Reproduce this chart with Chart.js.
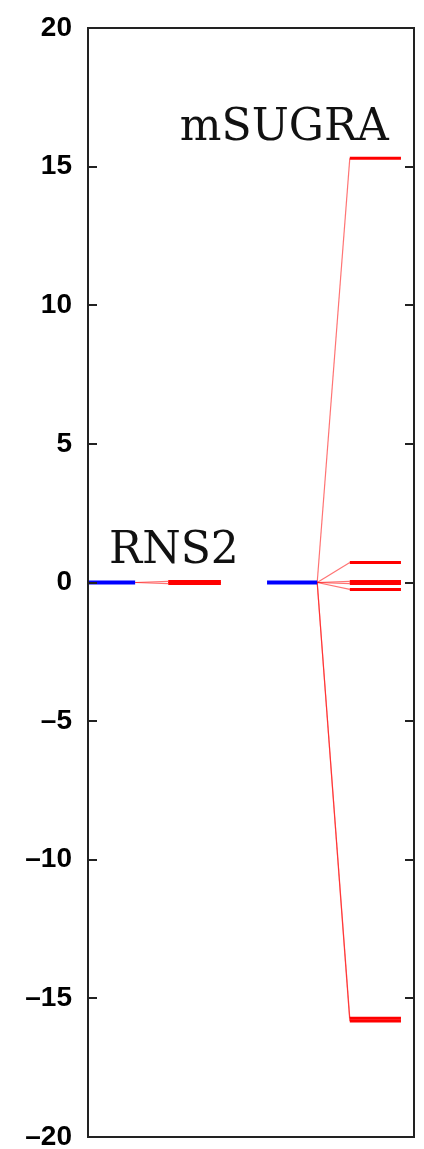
<!DOCTYPE html>
<html>
<head>
<meta charset="utf-8">
<script src="https://cdn.jsdelivr.net/npm/chart.js@4/dist/chart.umd.min.js"></script>
<style>
  html, body { margin: 0; padding: 0; background: #fff; }
  #wrap { width: 424px; height: 1149px; }
</style>
</head>
<body>
<div id="wrap"><canvas id="chart" width="424" height="1149"></canvas></div>
<script>
// Dados do gráfico
const groupNames = ['RNS2', 'mSUGRA'];
const yTicks = [-20, -15, -10, -5, 0, 5, 10, 15, 20];
const baseLevel = 0;
const blueStart = [0, 3.57];
const blueEnd = [0.94, 4.57];
const redStart = [1.6, 5.22];
const redEnd = [2.65, 6.24];
const rns2Levels = [0.04, -0.04];
const msugraLevels = [15.3, 0.72, 0.04, -0.04, -0.25, -15.72, -15.82];
const groupLevels = [rns2Levels, msugraLevels];

// Montar datasets
const datasets = [];
groupNames.forEach((nome, i) => {
    // linha azul (nível base)
    datasets.push({
        data: [{ x: blueStart[i], y: baseLevel }, { x: blueEnd[i], y: baseLevel }],
        borderColor: '#0000ff',
        borderWidth: 4
    });
    groupLevels[i].forEach(nivel => {
        // ligação fina
        datasets.push({
            data: [{ x: blueEnd[i], y: baseLevel }, { x: redStart[i], y: nivel }],
            borderColor: 'rgba(255, 0, 0, 0.55)',
            borderWidth: 1.2
        });
        // nível vermelho
        datasets.push({
            data: [{ x: redStart[i], y: nivel }, { x: redEnd[i], y: nivel }],
            borderColor: '#ff0000',
            borderWidth: 3
        });
    });
});
datasets.forEach(d => {
    d.showLine = true;
    d.pointRadius = 0;
    d.borderCapStyle = 'butt';
});

// Moldura, marcas e rótulos
const framePlugin = {
    id: 'frame',
    afterDraw(chart) {
        const ctx = chart.ctx;
        const a = chart.chartArea;
        const ys = chart.scales.y;
        const xs = chart.scales.x;
        ctx.save();
        ctx.strokeStyle = '#222';
        ctx.lineWidth = 2;
        ctx.strokeRect(a.left, a.top, a.right - a.left, a.bottom - a.top);
        ctx.beginPath();
        yTicks.forEach(t => {
            const py = Math.round(ys.getPixelForValue(t));
            ctx.moveTo(a.left, py); ctx.lineTo(a.left + 9, py);
            ctx.moveTo(a.right, py); ctx.lineTo(a.right - 9, py);
        });
        ctx.stroke();

        ctx.fillStyle = '#111';
        ctx.font = '44px "DejaVu Serif"';
        ctx.textBaseline = 'alphabetic';
        ctx.textAlign = 'left';
        ctx.fillText(groupNames[0], xs.getPixelForValue(0.42), ys.getPixelForValue(0.69));
        ctx.fillText(groupNames[1], xs.getPixelForValue(1.83), ys.getPixelForValue(15.95));
        ctx.restore();
    }
};

const ctx = document.getElementById('chart').getContext('2d');
new Chart(ctx, {
    type: 'scatter',
    data: { datasets: datasets },
    options: {
        responsive: false,
        animation: false,
        layout: { padding: { left: 0, top: 28, right: 10, bottom: 12 } },
        plugins: { legend: { display: false }, tooltip: { enabled: false } },
        scales: {
            x: { type: 'linear', min: 0, max: 6.5, display: false },
            y: {
                type: 'linear',
                min: -20,
                max: 20,
                afterFit: s => { s.width = 88; s.paddingTop = 0; s.paddingBottom = 0; },
                afterBuildTicks: s => { s.ticks = yTicks.map(v => ({ value: v })); },
                grid: { display: false },
                border: { display: false },
                ticks: {
                    color: '#000',
                    padding: 8,
                    font: { family: '"Liberation Sans"', weight: 'bold', size: 28 },
                    callback: v => (v < 0 ? '\u2013' + Math.abs(v) : String(v))
                }
            }
        }
    },
    plugins: [framePlugin]
});
</script>
</body>
</html>
